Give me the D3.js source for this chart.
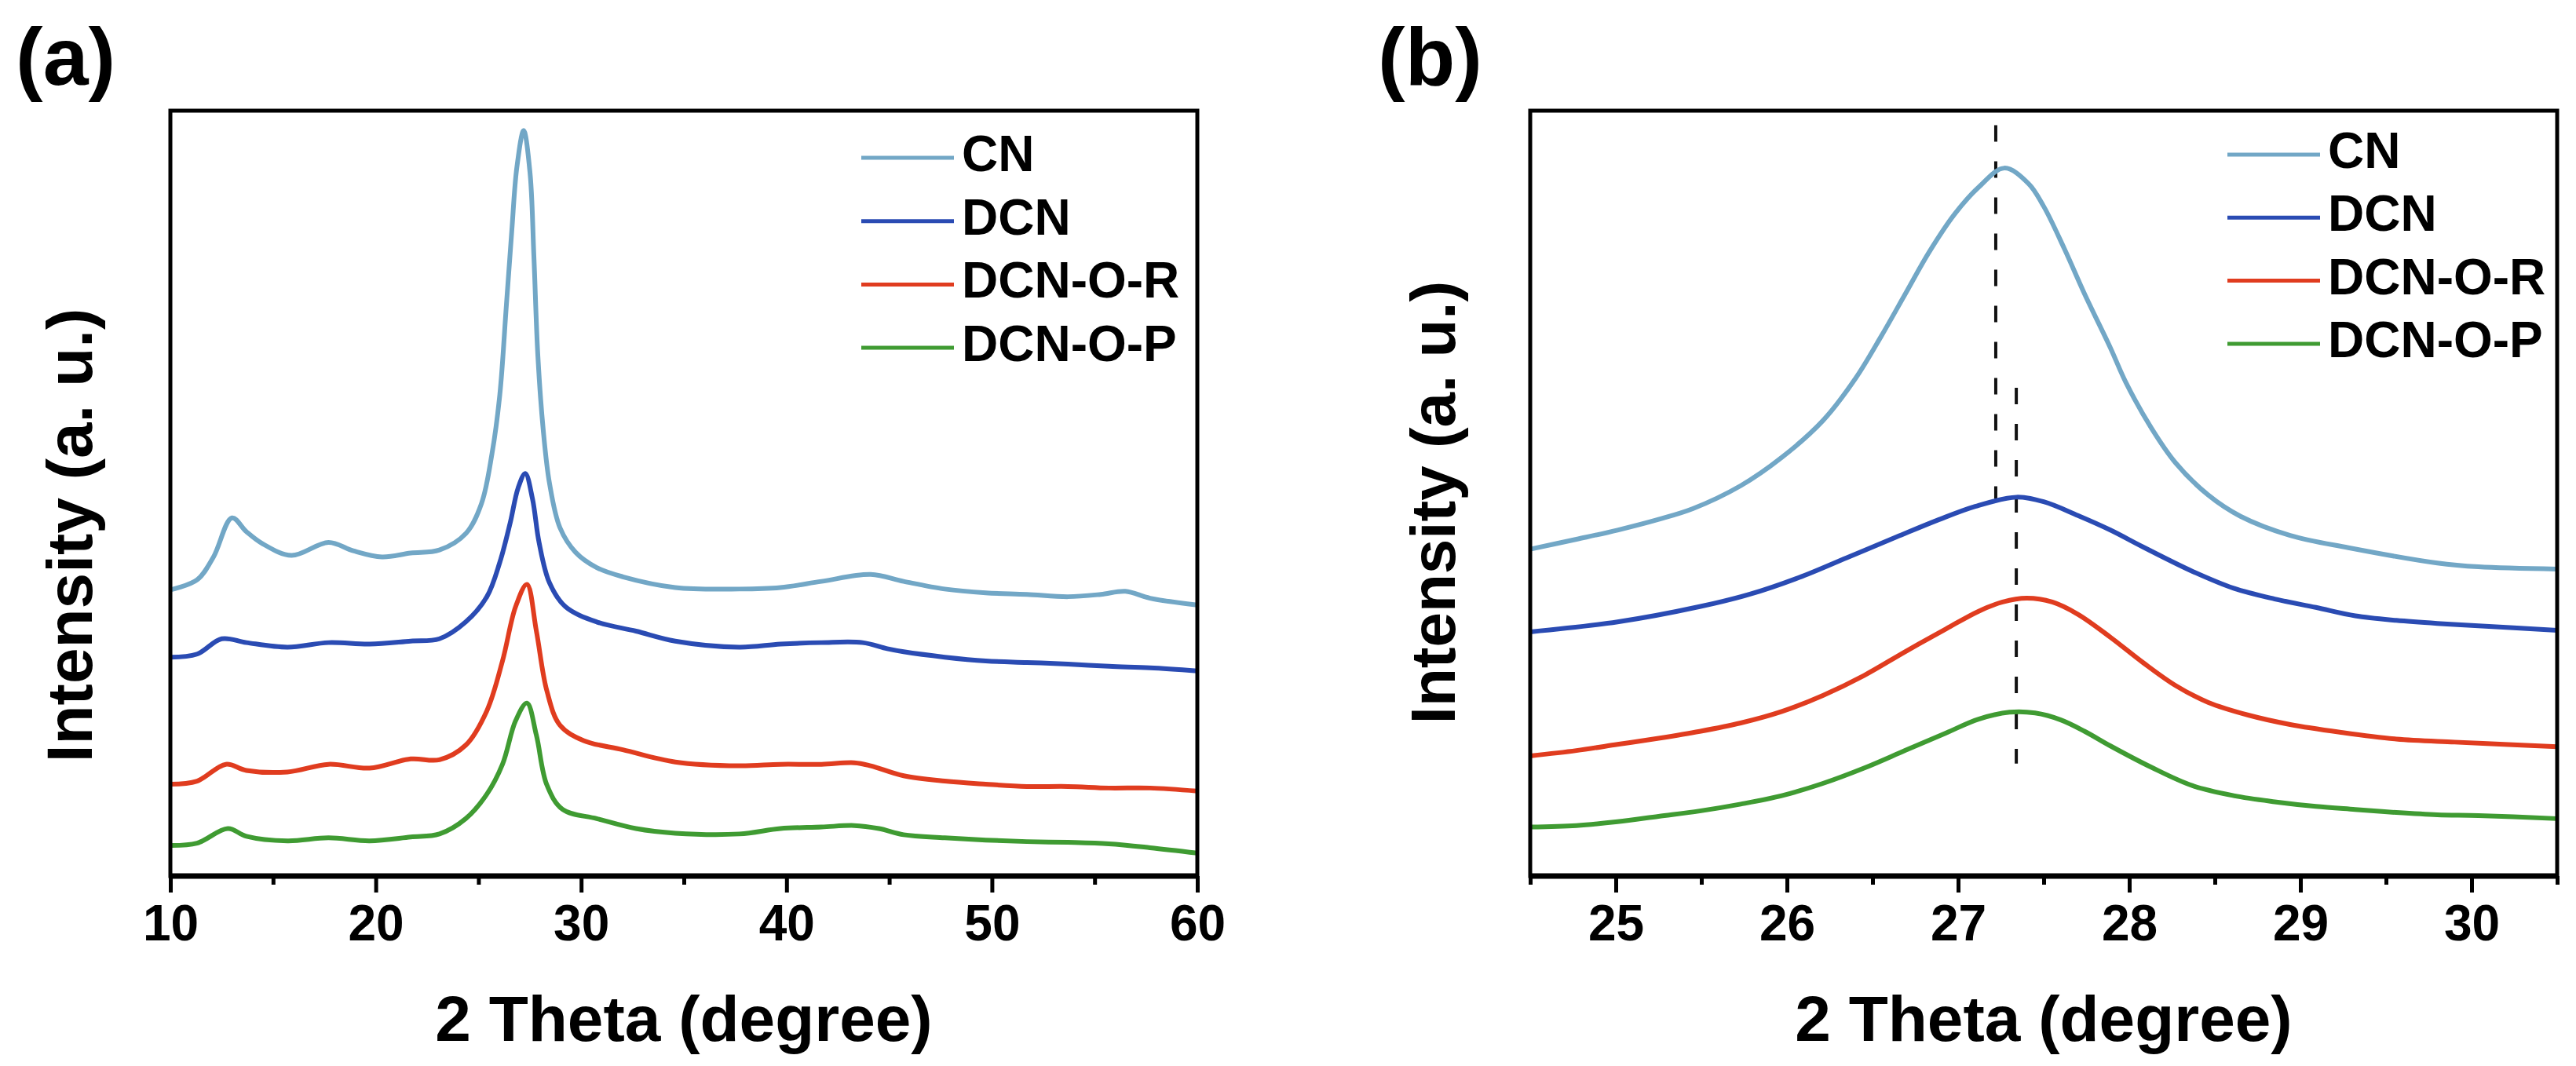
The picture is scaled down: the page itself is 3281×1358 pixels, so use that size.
<!DOCTYPE html>
<html>
<head>
<meta charset="utf-8">
<script src="https://cdn.jsdelivr.net/npm/d3@7"></script>
<style>
  body { margin: 0; background: #fff; }
  text { font-family: "Liberation Sans", Arial, sans-serif; font-weight: bold; fill: #000; }
</style>
</head>
<body>
<svg id="chart"></svg>
<script>
// ---- data (2 theta in degree, intensity in arbitrary units) ----
const seriesNames = ["CN", "DCN", "DCN-O-R", "DCN-O-P"];
const seriesColors = ["#72a7c6", "#2a4bb3", "#e03c1f", "#3f9b32"];

// panel (a): wide scan 10-60
const wideCN = [
  [10, 37.4], [11.3, 38.7], [12.1, 41.7], [13.0, 46.8], [13.7, 45.0], [14.5, 43.4],
  [15.9, 41.9], [17.7, 43.6], [18.9, 42.5], [20.3, 41.7], [21.7, 42.2], [23.1, 42.6],
  [24.4, 44.8], [25.15, 48.7], [25.66, 55.2], [26.04, 62.9], [26.36, 74.6], [26.62, 84.2],
  [26.87, 92.6], [27.2, 97.4], [27.51, 91.9], [27.7, 80.9], [27.89, 68.1], [28.15, 58.4],
  [28.46, 51.3], [28.97, 45.5], [29.73, 42.3], [30.76, 40.3], [32.03, 39.1], [34.58, 37.7],
  [37.7, 37.5], [39.7, 37.7], [41.7, 38.5], [44.1, 39.4], [45.7, 38.5], [47.7, 37.5],
  [49.7, 37.0], [51.7, 36.8], [53.7, 36.5], [55.3, 36.8], [56.5, 37.2], [57.7, 36.3], [60, 35.4]
];
const wideDCN = [
  [10, 28.6], [11.3, 29.0], [12.5, 31.0], [13.7, 30.5], [15.7, 29.9], [17.7, 30.5],
  [19.7, 30.3], [21.7, 30.7], [23.1, 31.0], [24.38, 33.2], [25.41, 36.5], [26.04, 41.0],
  [26.55, 46.2], [26.93, 50.7], [27.28, 52.6], [27.63, 49.3], [27.95, 43.6], [28.46, 38.3],
  [29.23, 35.2], [30.76, 33.2], [32.67, 32.0], [34.58, 30.7], [37.7, 29.9], [39.7, 30.3],
  [41.7, 30.5], [43.7, 30.5], [44.9, 29.7], [45.7, 29.3], [47.7, 28.6], [49.7, 28.1],
  [51.7, 27.9], [53.7, 27.7], [55.7, 27.4], [57.7, 27.2], [60, 26.8]
];
const wideDCNOR = [
  [10, 12.0], [11.3, 12.4], [12.7, 14.6], [13.7, 13.8], [15.7, 13.6], [17.7, 14.6],
  [19.7, 14.1], [21.7, 15.3], [23.1, 15.2], [24.38, 17.1], [25.41, 21.6], [26.17, 28.1],
  [26.81, 35.2], [27.36, 38.1], [27.82, 32.0], [28.33, 24.2], [28.97, 19.7], [30.12, 17.7],
  [32.03, 16.5], [34.58, 14.9], [37.7, 14.4], [39.7, 14.6], [41.7, 14.6], [43.3, 14.8],
  [44.1, 14.4], [45.7, 13.1], [47.7, 12.4], [49.7, 12.0], [51.7, 11.7], [53.7, 11.7],
  [55.7, 11.5], [57.7, 11.5], [60, 11.1]
];
const wideDCNOP = [
  [10, 4.0], [11.3, 4.3], [12.8, 6.2], [13.7, 5.2], [15.7, 4.6], [17.7, 5.0],
  [19.7, 4.6], [21.7, 5.1], [23.1, 5.5], [24.38, 7.5], [25.41, 10.7], [26.17, 14.6],
  [26.81, 20.3], [27.36, 22.6], [27.82, 18.4], [28.33, 11.9], [29.1, 8.7], [30.76, 7.5],
  [32.67, 6.2], [34.58, 5.6], [37.7, 5.5], [39.7, 6.2], [41.7, 6.4], [43.3, 6.6],
  [44.5, 6.2], [45.7, 5.4], [47.7, 5.0], [49.7, 4.7], [51.7, 4.5], [53.7, 4.4],
  [55.7, 4.2], [57.7, 3.7], [60, 3.0]
];

// panel (b): zoom on the (002) peak 24.5-30.5
const zoomCN = [
  [24.5, 42.7], [24.77, 44.0], [25.01, 45.2], [25.25, 46.6], [25.45, 48.0], [25.73, 51.0],
  [25.97, 54.7], [26.21, 59.5], [26.4, 65.0], [26.55, 70.5], [26.69, 76.0], [26.83, 81.5],
  [26.98, 86.5], [27.12, 90.0], [27.27, 92.5], [27.41, 90.5], [27.5, 87.5],
  [27.62, 82.0], [27.74, 76.0], [27.89, 69.0], [27.98, 64.5], [28.13, 58.5], [28.27, 54.0],
  [28.46, 49.8], [28.65, 47.0], [28.94, 44.5], [29.28, 42.9], [29.8, 40.9],
  [30.04, 40.4], [30.5, 40.1]
];
const zoomDCN = [
  [24.5, 31.9], [25.01, 33.2], [25.49, 35.2], [25.78, 36.8], [26.07, 39.0], [26.35, 41.6],
  [26.64, 44.3], [26.88, 46.5], [27.1, 48.3], [27.34, 49.5], [27.5, 48.9], [27.7, 47.1],
  [27.89, 45.2], [28.08, 43.0], [28.37, 39.8], [28.61, 37.6], [28.85, 36.2], [29.09, 35.1],
  [29.32, 34.0], [29.56, 33.4], [29.8, 33.0], [30.04, 32.7], [30.5, 32.1]
];
const zoomDCNOR = [
  [24.5, 15.7], [24.77, 16.4], [25.01, 17.2], [25.25, 18.0], [25.49, 18.9], [25.73, 20.0],
  [25.97, 21.5], [26.21, 23.6], [26.45, 26.2], [26.69, 29.3], [26.93, 32.3], [27.12, 34.6],
  [27.26, 35.8], [27.4, 36.3], [27.55, 35.8], [27.7, 34.2], [27.89, 31.2], [28.08, 27.9],
  [28.27, 24.9], [28.46, 22.7], [28.7, 21.0], [28.94, 19.8], [29.23, 18.8], [29.56, 17.9],
  [29.9, 17.5], [30.19, 17.2], [30.5, 16.9]
];
const zoomDCNOP = [
  [24.5, 6.4], [24.77, 6.6], [25.01, 7.1], [25.25, 7.8], [25.49, 8.5], [25.73, 9.4],
  [25.97, 10.5], [26.21, 12.1], [26.45, 14.1], [26.69, 16.4], [26.93, 18.7], [27.12, 20.5],
  [27.3, 21.4], [27.45, 21.3], [27.6, 20.4], [27.74, 18.9], [27.89, 17.0],
  [28.13, 14.2], [28.37, 11.8], [28.61, 10.5], [28.85, 9.7], [29.09, 9.1], [29.32, 8.7],
  [29.56, 8.3], [29.8, 8.0], [30.04, 7.9], [30.5, 7.5]
];

// peak guide lines in panel (b): [2 theta, top intensity, bottom intensity]
const peakGuides = [[27.22, 98.1, 49.3], [27.34, 63.8, 14.7]];

const wideMajorTicks = [10, 20, 30, 40, 50, 60];
const wideMinorTicks = [15, 25, 35, 45, 55];
const zoomMajorTicks = [25, 26, 27, 28, 29, 30];
const zoomMinorTicks = [24.5, 25.5, 26.5, 27.5, 28.5, 29.5, 30.5];

// ---- layout ----
const width = 3281, height = 1358;
const frameTop = 141, frameBottom = 1116;

const svg = d3.select("#chart").attr("width", width).attr("height", height);
svg.append("rect").attr("width", width).attr("height", height).attr("fill", "#fff");

function drawPanel(cfg) {
    const x = d3.scaleLinear().domain(cfg.domain).range([cfg.left, cfg.right]);
    const y = d3.scaleLinear().domain([0, 100]).range([frameBottom, frameTop]);

    const g = svg.append("g");

    const line = d3.line()
        .x((d) => x(d[0]))
        .y((d) => y(d[1]))
        .curve(d3.curveCatmullRom.alpha(0.5));

    // guide lines go under the curves
    (cfg.guides || []).forEach((d) => {
        g.append("line")
            .attr("x1", x(d[0])).attr("x2", x(d[0]))
            .attr("y1", y(d[1])).attr("y2", y(d[2]))
            .attr("stroke", "#111")
            .attr("stroke-width", 4)
            .attr("stroke-dasharray", "21,25");
    });

    g.selectAll(".curve")
        .data(cfg.series)
        .join("path")
        .attr("class", "curve")
        .attr("d", line)
        .attr("fill", "none")
        .attr("stroke", (d, i) => seriesColors[i])
        .attr("stroke-width", 6)
        .attr("stroke-linejoin", "round");

    // frame
    g.append("rect")
        .attr("x", cfg.left).attr("y", frameTop)
        .attr("width", cfg.right - cfg.left)
        .attr("height", frameBottom - frameTop)
        .attr("fill", "none")
        .attr("stroke", "#000")
        .attr("stroke-width", 5);

    // minor ticks
    const minorAxis = d3.axisBottom(x).tickValues(cfg.minor).tickSize(11).tickSizeOuter(0).tickFormat("");
    const minorG = g.append("g").attr("transform", `translate(0,${frameBottom})`).call(minorAxis);
    minorG.select(".domain").remove();
    minorG.selectAll("line").attr("stroke-width", 5);

    // major ticks with labels
    const majorAxis = d3.axisBottom(x)
        .tickValues(cfg.major)
        .tickFormat(d3.format("d"))
        .tickSize(21).tickSizeOuter(0).tickPadding(16);
    const majorG = g.append("g").attr("transform", `translate(0,${frameBottom})`).call(majorAxis);
    majorG.select(".domain").attr("stroke-width", 7).attr("d", `M${cfg.left},0H${cfg.right}`);
    majorG.selectAll("line").attr("stroke-width", 5);
    majorG.selectAll("text")
        .style("font-family", '"Liberation Sans", Arial, sans-serif')
        .style("font-weight", "bold")
        .style("font-size", "64px");

    // axis titles
    g.append("text")
        .attr("x", (cfg.left + cfg.right) / 2)
        .attr("y", 1326)
        .attr("text-anchor", "middle")
        .style("font-size", "82px")
        .text("2 Theta (degree)");

    g.append("text")
        .attr("transform", `translate(${cfg.yTitleX},${cfg.yTitleY}) rotate(-90)`)
        .attr("text-anchor", "middle")
        .style("font-size", cfg.yTitleSize + "px")
        .text("Intensity (a. u.)");

    // panel letter
    g.append("text")
        .attr("x", cfg.letterX)
        .attr("y", 108)
        .style("font-size", "104px")
        .text(cfg.letter);

    // legend
    const legend = g.append("g")
        .attr("transform", `translate(${cfg.legendX},${cfg.legendY})`);
    const rows = legend.selectAll("g")
        .data(seriesNames)
        .join("g")
        .attr("transform", (d, i) => `translate(0,${i * cfg.legendStep})`);
    rows.append("line")
        .attr("x1", 0).attr("x2", 118)
        .attr("stroke", (d, i) => seriesColors[i])
        .attr("stroke-width", 5);
    rows.append("text")
        .attr("x", 128)
        .attr("y", 17)
        .style("font-size", "64px")
        .text((d) => d);
}

drawPanel({
    domain: [10, 60], left: 217, right: 1525,
    series: [wideCN, wideDCN, wideDCNOR, wideDCNOP],
    major: wideMajorTicks, minor: wideMinorTicks,
    yTitleX: 117, yTitleY: 682, yTitleSize: 82,
    letter: "(a)", letterX: 20,
    legendX: 1097, legendY: 201, legendStep: 80.7
});

drawPanel({
    domain: [24.5, 30.5], left: 1949, right: 3257,
    series: [zoomCN, zoomDCN, zoomDCNOR, zoomDCNOP],
    major: zoomMajorTicks, minor: zoomMinorTicks,
    guides: peakGuides,
    yTitleX: 1853, yTitleY: 640, yTitleSize: 80,
    letter: "(b)", letterX: 1755,
    legendX: 2837, legendY: 197, legendStep: 80.3
});
</script>
</body>
</html>
